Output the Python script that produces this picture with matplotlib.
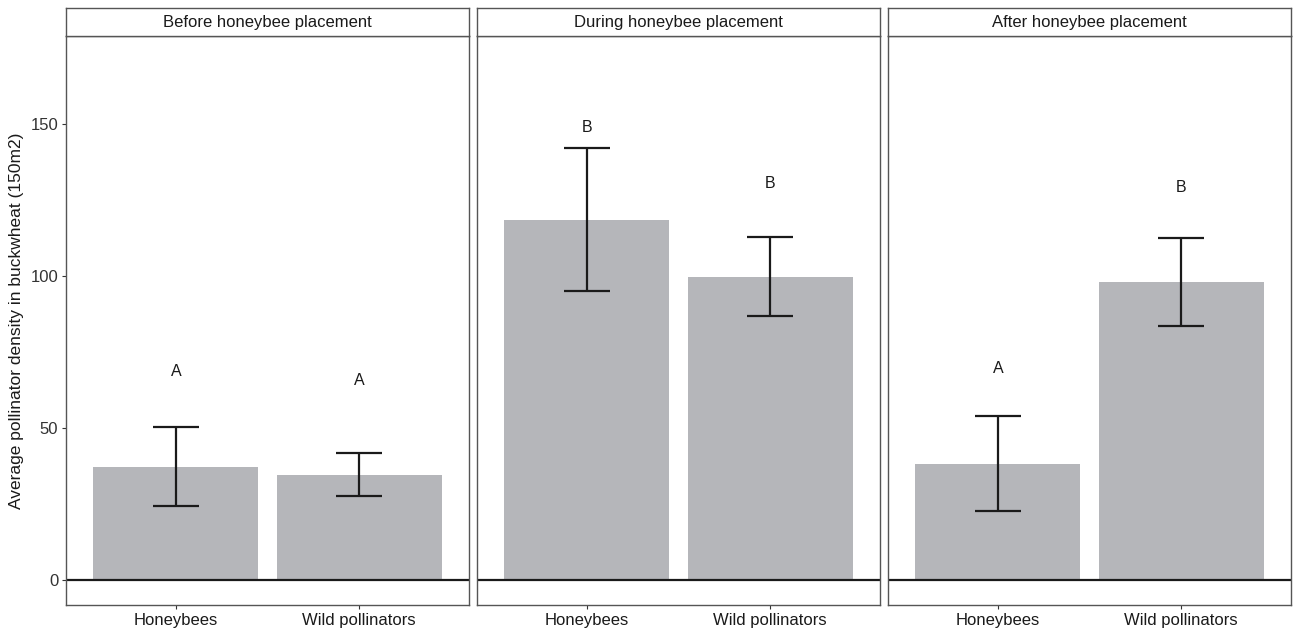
import matplotlib.pyplot as plt

plt.rcParams["font.family"] = ["Liberation Sans", "DejaVu Sans"]

periods = ["Before honeybee placement", "During honeybee placement", "After honeybee placement"]
groups = ["Honeybees", "Wild pollinators"]

# mean density and error bar limits per period (honeybees, wild pollinators)
means = [[37.3, 34.7], [118.4, 99.7], [38.2, 98.0]]
upper = [[50.4, 41.9], [142.1, 112.8], [53.9, 112.5]]
lower = [[24.4, 27.7], [95.1, 86.8], [22.7, 83.6]]
letters = [["A", "A"], ["B", "B"], ["A", "B"]]
letter_y = [[68.5, 65.5], [149.0, 130.5], [69.5, 129.0]]

W, H = 1293, 629
fig = plt.figure(figsize=(W / 100, H / 100), dpi=100)

panel_left = [66, 477, 888]
panel_w = 403
panel_top, panel_bot = 36, 605
strip_top = 8

bar_col = "#b5b6ba"
frame_col = "#555555"
fs = 12

for i, period in enumerate(periods):
    x0 = panel_left[i] / W
    ax = fig.add_axes([x0, 1 - panel_bot / H, panel_w / W, (panel_bot - panel_top) / H])
    pos = [1, 2]
    ax.bar(pos, means[i], width=0.9, color=bar_col, zorder=1)
    for p, m, hi, lo in zip(pos, means[i], upper[i], lower[i]):
        ax.vlines(p, lo, hi, color="#1a1a1a", lw=1.6, zorder=3)
        ax.hlines([lo, hi], p - 0.125, p + 0.125, color="#1a1a1a", lw=1.6, zorder=3)
    for p, lab, ly in zip(pos, letters[i], letter_y[i]):
        ax.text(p, ly, lab, ha="center", va="center", fontsize=11.5, color="#1a1a1a")
    ax.axhline(0, color="#1a1a1a", lw=1.6, zorder=2)
    ax.set_xlim(0.4, 2.6)
    ax.set_ylim(-8.2, 179)
    ax.set_xticks(pos)
    ax.set_xticklabels(groups, fontsize=fs, color="#1a1a1a")
    ax.set_yticks([0, 50, 100, 150])
    if i == 0:
        ax.set_yticklabels(["0", "50", "100", "150"], fontsize=fs, color="#333333")
        ax.set_ylabel("Average pollinator density in buckwheat (150m2)", fontsize=12.5,
                      color="#1a1a1a", labelpad=5)
    else:
        ax.tick_params(axis="y", left=False, labelleft=False)
    ax.tick_params(axis="both", length=3, color="#333333", pad=2.5)
    for s in ax.spines.values():
        s.set_color(frame_col)
        s.set_linewidth(1.0)

    # facet strip
    sax = fig.add_axes([x0, 1 - panel_top / H, panel_w / W, (panel_top - strip_top) / H])
    sax.set_xticks([])
    sax.set_yticks([])
    for s in sax.spines.values():
        s.set_color(frame_col)
        s.set_linewidth(1.0)
    sax.text(0.5, 0.5, period, ha="center", va="center", fontsize=fs,
             color="#1a1a1a", transform=sax.transAxes)

fig.savefig("out.png", dpi=100)
